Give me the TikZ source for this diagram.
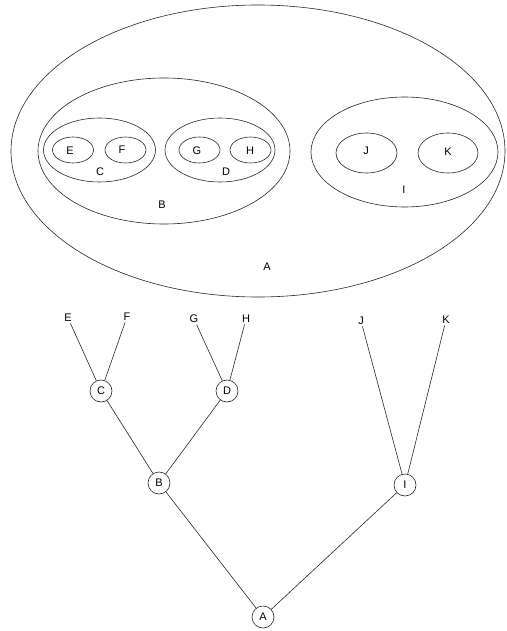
\documentclass[tikz,border=0pt]{standalone}
\usepackage{fontspec}
\setmainfont{Liberation Sans}
\begin{document}
\begin{tikzpicture}[x=1pt,y=-1pt,
  outline/.style={draw=black!85,line width=0.6pt},
  lbl/.style={font=\fontsize{11}{13}\selectfont,inner sep=1pt},
  treenode/.style={circle,draw=black!85,line width=0.6pt,minimum size=22pt,inner sep=0pt,font=\fontsize{11}{13}\selectfont},
  leaf/.style={font=\fontsize{11}{13}\selectfont,inner sep=1.5pt},
  edge/.style={draw=black!85,line width=0.6pt}]
\useasboundingbox (0,0) rectangle (506,631);
% Set diagram
\draw[outline] (258,151) ellipse [x radius=247, y radius=146];
\draw[outline] (164,151) ellipse [x radius=126, y radius=73];
\draw[outline] (99.5,150) ellipse [x radius=56, y radius=32];
\draw[outline] (73,150) ellipse [x radius=20.5, y radius=13];
\draw[outline] (125.5,150) ellipse [x radius=20.5, y radius=13];
\draw[outline] (220,150) ellipse [x radius=55, y radius=32];
\draw[outline] (199.5,150) ellipse [x radius=20.5, y radius=13];
\draw[outline] (250.5,150) ellipse [x radius=20.5, y radius=13];
\draw[outline] (404.5,152) ellipse [x radius=93.5, y radius=55];
\draw[outline] (366.5,153) ellipse [x radius=30.5, y radius=20];
\draw[outline] (448,153) ellipse [x radius=30, y radius=20];
\node[lbl] (sA) at (267,267) {A};
\node[lbl] (sB) at (162,205) {B};
\node[lbl] (sC) at (100,172) {C};
\node[lbl] (sD) at (226,172) {D};
\node[lbl] (sE) at (70,151) {E};
\node[lbl] (sF) at (122,150) {F};
\node[lbl] (sG) at (197,151) {G};
\node[lbl] (sH) at (250,151) {H};
\node[lbl] (sI) at (404,190) {I};
\node[lbl] (sJ) at (366,151) {J};
\node[lbl] (sK) at (448,152) {K};
% Tree
\node[treenode] (tA) at (263,617) {A};
\node[treenode] (tB) at (159,483) {B};
\node[treenode] (tC) at (101,391) {C};
\node[treenode] (tD) at (227,391) {D};
\node[treenode] (tI) at (405,485) {I};
\node[leaf] (tE) at (68,318) {E};
\node[leaf] (tF) at (127,317) {F};
\node[leaf] (tG) at (194,319) {G};
\node[leaf] (tH) at (246,319) {H};
\node[leaf] (tJ) at (361,321) {J};
\node[leaf] (tK) at (446,320) {K};
\draw[edge] (tE) -- (tC);
\draw[edge] (tF) -- (tC);
\draw[edge] (tG) -- (tD);
\draw[edge] (tH) -- (tD);
\draw[edge] (tC) -- (tB);
\draw[edge] (tD) -- (tB);
\draw[edge] (tB) -- (tA);
\draw[edge] (tI) -- (tA);
\draw[edge] (tJ) -- (tI);
\draw[edge] (tK) -- (tI);
\end{tikzpicture}
\end{document}
